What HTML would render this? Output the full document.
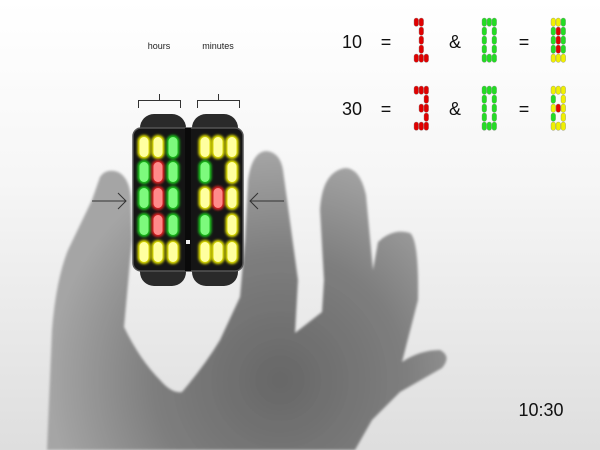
<!DOCTYPE html>
<html><head><style>
html,body{margin:0;padding:0;width:600px;height:450px;overflow:hidden}
body{background:linear-gradient(#fff 0%,#f6f6f6 40%,#dedede 100%);font-family:"Liberation Sans",sans-serif}
</style></head><body>
<svg width="600" height="450" viewBox="0 0 600 450" xmlns="http://www.w3.org/2000/svg" style="position:absolute;left:0;top:0">
<defs>
<radialGradient id="hg" gradientUnits="userSpaceOnUse" cx="280" cy="380" r="230">
<stop offset="0" stop-color="#676767"/><stop offset="0.55" stop-color="#7e7e7e"/><stop offset="1" stop-color="#a5a5a5"/>
</radialGradient>
<filter id="bl"><feGaussianBlur stdDeviation="1.3"/></filter>
<filter id="gl" x="-50%" y="-50%" width="200%" height="200%"><feGaussianBlur stdDeviation="1.2"/></filter>
</defs>
<path filter="url(#bl)" fill="url(#hg)" d="M47,450 L52,330 Q56,280 68,250 L92,200 L100,177 Q106,168 118,172 Q130,178 131,200 L132,240 L124,327 Q140,360 160,380 Q172,394 182,392 Q205,365 220,340 L240,297 L245,240 L248,180 Q252,152 266,151 Q280,152 283,170 L298,280 L295,333 L322,312 L324,280 L320,210 Q322,172 345,168 Q360,168 366,195 L373,270 L378,242 Q393,228 410,233 Q419,240 418,300 L402,362 Q420,350 440,350 Q452,356 442,368 L400,392 L372,420 L355,450 Z"/>
<g stroke="#333" stroke-width="1" fill="none">
<path d="M138.5,108 V100.5 H180.5 V108 M159.5,100.5 V94"/>
<path d="M197.5,108 V100.5 H239.5 V108 M218.5,100.5 V94"/>
<path d="M92,201 H126 M118,193 L126,201 L118,209"/>
<path d="M250,201 H284 M258,193 L250,201 L258,209"/>
</g>
<text x="159" y="49" font-size="9" text-anchor="middle" fill="#222">hours</text>
<text x="218" y="49" font-size="9" text-anchor="middle" fill="#222">minutes</text>
<rect x="140" y="114" width="46" height="172" rx="14" fill="#2a2a2a"/>
<rect x="192" y="114" width="46" height="172" rx="14" fill="#2a2a2a"/>
<rect x="133" y="128" width="110" height="143" rx="8" fill="#151515" stroke="#555" stroke-width="1.5"/>
<rect x="185" y="128" width="6" height="143" fill="#0a0a0a"/>
<rect x="186" y="240" width="4" height="4" fill="#eee"/>
<g id="dev"></g>
<text x="352" y="48" font-size="18" text-anchor="middle" fill="#111">10</text>
<text x="386" y="48" font-size="18" text-anchor="middle" fill="#111">=</text>
<text x="455" y="48" font-size="18" text-anchor="middle" fill="#111">&amp;</text>
<text x="524" y="48" font-size="18" text-anchor="middle" fill="#111">=</text>
<text x="352" y="115" font-size="18" text-anchor="middle" fill="#111">30</text>
<text x="386" y="115" font-size="18" text-anchor="middle" fill="#111">=</text>
<text x="455" y="115" font-size="18" text-anchor="middle" fill="#111">&amp;</text>
<text x="524" y="115" font-size="18" text-anchor="middle" fill="#111">=</text>
<text x="541" y="416" font-size="18" text-anchor="middle" fill="#111">10:30</text>
<g id="sm"></g>
</svg>
<script>
var NS="http://www.w3.org/2000/svg";
var C={y:["#ffffa0","#e8e800"],g:["#7dfa7d","#1ec81e"],r:["#ff8a8a","#e02020"]};
function el(p,t,a){var e=document.createElementNS(NS,t);for(var k in a)e.setAttribute(k,a[k]);p.appendChild(e);return e;}
var dev=document.getElementById("dev");
var H=["yyg","grg","grg","grg","yyy"],M=["yyy","g.y","yry","g.y","yyy"];
var rows=[147,172,198,225,252];
function drawDev(P,xs){P.forEach(function(r,i){for(var j=0;j<3;j++){var c=r[j];if(c==".")continue;
el(dev,"rect",{x:xs[j]-6.5,y:rows[i]-12,width:13,height:24,rx:6.5,fill:C[c][1],filter:"url(#gl)"});
el(dev,"rect",{x:xs[j]-4.5,y:rows[i]-10,width:9,height:20,rx:4.5,fill:C[c][0]});}});}
drawDev(H,[144,158,173]);drawDev(M,[205,218,232]);
var sm=document.getElementById("sm");
var D={a:["rr.",".r.",".r.",".r.","rrr"],b:["ggg","g.g","g.g","g.g","ggg"],c:H,
d:["rrr","..r",".rr","..r","rrr"],e:M};
var CS={r:"#e00000",g:"#22dd22",y:"#f0f000"};
function drawSm(P,x0,y0){P.forEach(function(r,i){for(var j=0;j<3;j++){var c=r[j];if(c==".")continue;
el(sm,"rect",{x:x0+j*5,y:y0+i*9,width:4.6,height:8.4,rx:2.3,fill:CS[c],stroke:"#888","stroke-width":0.4});}});}
drawSm(D.a,414,18);drawSm(D.b,482,18);drawSm(D.c,551,18);
drawSm(D.d,414,86);drawSm(D.b,482,86);drawSm(D.e,551,86);
</script>
</body></html>
